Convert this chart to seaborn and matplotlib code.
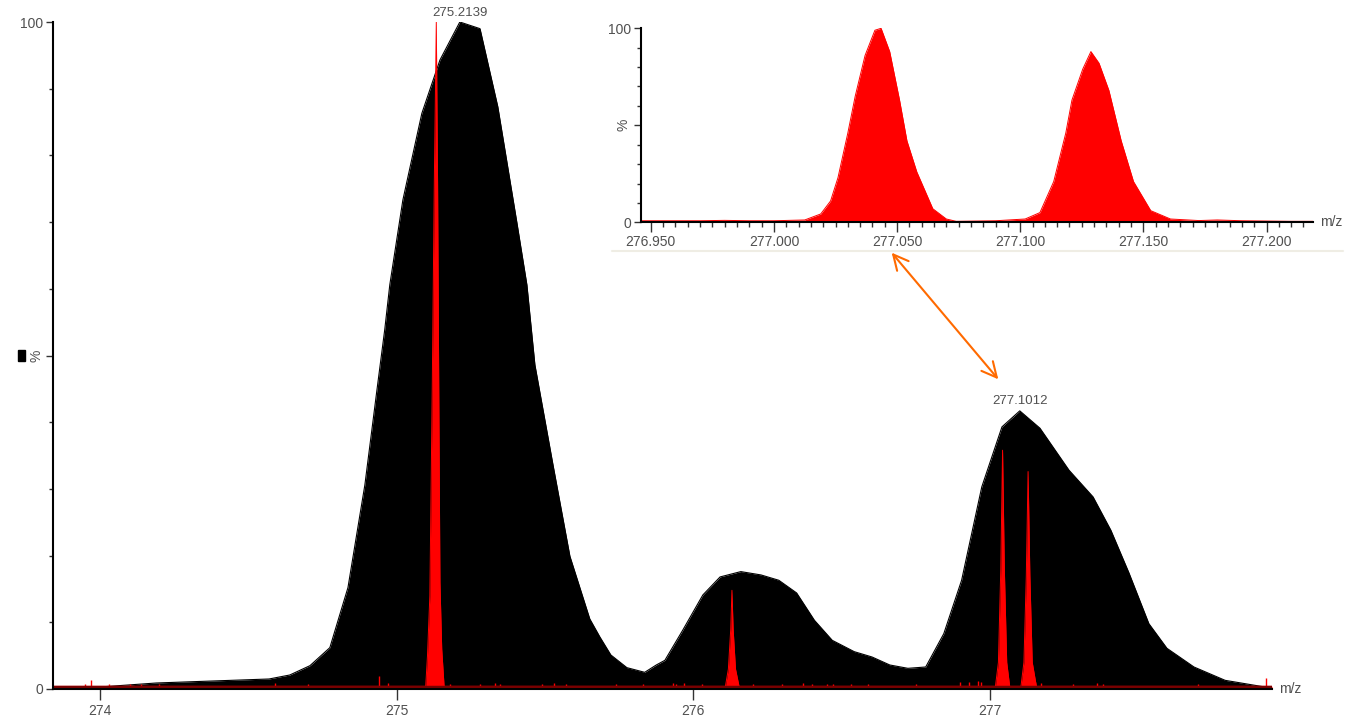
import numpy as np
import matplotlib
matplotlib.use("Agg")
import matplotlib.pyplot as plt
import seaborn as sns
from matplotlib.patches import Rectangle
from matplotlib.ticker import MultipleLocator

# black profile spectrum (m/z, %)
profileMz = [273.842, 274.00, 274.19, 274.38, 274.57, 274.64, 274.708, 274.775, 274.836,
             274.893, 274.933, 274.960, 274.977, 275.021, 275.085, 275.146, 275.213, 275.281,
             275.341, 275.405, 275.439, 275.466, 275.527, 275.584, 275.651, 275.685, 275.722,
             275.776, 275.836, 275.875, 275.904, 275.964, 276.032, 276.090, 276.160, 276.228,
             276.288, 276.348, 276.408, 276.468, 276.542, 276.602, 276.662, 276.723, 276.783,
             276.844, 276.904, 276.972, 277.040, 277.100, 277.168, 277.266, 277.347, 277.407,
             277.468, 277.535, 277.596, 277.687, 277.792, 277.926, 277.95]
profilePct = [0.0, 0.3, 0.9, 1.2, 1.5, 2.1, 3.5, 6.2, 15.2,
              30.6, 44.6, 53.9, 60.6, 73.3, 86.3, 94.3, 100.0, 99.0,
              87.3, 70.0, 60.6, 48.6, 33.6, 19.9, 10.5, 7.8, 5.1,
              3.2, 2.5, 3.6, 4.3, 8.8, 14.1, 16.8, 17.6, 17.1,
              16.3, 14.4, 10.3, 7.3, 5.6, 4.8, 3.6, 3.1, 3.3,
              8.3, 16.3, 30.3, 39.3, 41.7, 39.1, 32.8, 28.8, 23.8,
              17.4, 9.8, 6.1, 3.3, 1.3, 0.3, 0.2]

# red high resolution spectrum (m/z, %)
redMz = [273.842, 275.098, 275.104, 275.112, 275.120, 275.127, 275.1337, 275.138, 275.142,
         275.146, 275.152, 275.160, 276.108, 276.118, 276.126, 276.130, 276.134, 276.142,
         276.154, 277.018, 277.028, 277.036, 277.042, 277.048, 277.056, 277.066, 277.104,
         277.114, 277.122, 277.128, 277.134, 277.142, 277.156, 277.95]
redPct = [0.4, 0.4, 5, 14, 45, 76, 100, 76, 45,
          16, 6, 0.4, 0.4, 3, 9, 14.8, 9, 3,
          0.4, 0.4, 4, 18, 35.8, 18, 4, 0.4, 0.4,
          4, 17, 32.6, 17, 4, 0.4, 0.4]

# small noise spikes on the red trace
noiseMz = [273.95, 273.97, 274.03, 274.10, 274.14, 274.20, 274.59, 274.70, 274.94, 274.97,
           275.18, 275.28, 275.33, 275.35, 275.49, 275.53, 275.57, 275.74, 275.83, 275.93,
           275.94, 275.97, 276.03, 276.20, 276.30, 276.37, 276.40, 276.45, 276.47, 276.53,
           276.59, 276.75, 276.90, 276.93, 276.96, 276.97, 277.15, 277.17, 277.28, 277.36,
           277.38, 277.70, 277.93]
noiseHt = [0.8, 1.4, 0.8, 0.7, 0.7, 0.8, 0.9, 0.8, 2.0, 0.9,
           0.8, 0.8, 0.9, 0.8, 0.8, 0.9, 0.8, 0.8, 0.8, 0.9,
           0.8, 0.9, 0.8, 0.8, 0.8, 0.9, 0.8, 0.8, 0.8, 0.8,
           0.8, 0.8, 1.0, 1.1, 1.2, 1.1, 1.0, 0.9, 0.8, 0.9,
           0.8, 0.8, 1.6]

# inset: zoom on the 277 doublet
insetMz = [276.946, 276.97, 276.98, 276.99, 277.0, 277.0125, 277.019, 277.023, 277.026,
           277.030, 277.033, 277.037, 277.041, 277.0435, 277.047, 277.051, 277.054, 277.058,
           277.0645, 277.070, 277.074, 277.09, 277.102, 277.108, 277.1136, 277.1185, 277.121,
           277.1254, 277.1287, 277.132, 277.136, 277.141, 277.146, 277.153, 277.161, 277.1725,
           277.18, 277.19, 277.21, 277.219]
insetPct = [0.8, 0.8, 1.0, 0.8, 0.8, 1.2, 4.3, 11, 23,
            46, 65, 86, 99, 100, 88, 63, 42, 26,
            7, 1.7, 0.5, 0.8, 1.7, 5, 21, 46, 63,
            79, 88, 82, 68, 42, 21, 6, 1.7, 0.9,
            1.2, 0.8, 0.5, 0.5]

mainTicks = [274, 275, 276, 277]
insetTicks = [276.950, 277.000, 277.050, 277.100, 277.150, 277.200]
peakLabels = [(275.2139, 100.5, "275.2139"), (277.1012, 42.3, "277.1012")]

sns.set_theme(style="ticks")
plt.rcParams['font.family'] = ['Liberation Sans', 'DejaVu Sans']
textColor = "#505050"

W, H = 1347, 716
fig = plt.figure(figsize=(W / 100, H / 100), dpi=100)
fig.patch.set_facecolor("white")

# main plot
ax = fig.add_axes([53 / W, 27 / H, (1272 - 53) / W, 667 / H])
ax.fill_between(profileMz, profilePct, 0, color="black", lw=0)
sns.lineplot(x=profileMz, y=profilePct, ax=ax, color="black", lw=0.8, estimator=None, sort=False)
ax.fill_between(redMz, redPct, 0, color="#ff0000", lw=0)
sns.lineplot(x=redMz, y=redPct, ax=ax, color="#ff0000", lw=0.7, estimator=None, sort=False)
ax.vlines(noiseMz, 0, noiseHt, color="#ff0000", lw=1)
ax.axhline(0.3, color="#7a0000", lw=2.5)

ax.set_xlim(273.842, 277.95)
ax.set_ylim(0, 100)
ax.set_xticks(mainTicks)
ax.set_xticklabels([str(t) for t in mainTicks])
ax.set_yticks([0, 50, 100])
ax.set_yticklabels(["0", "%", "100"])
ax.get_yticklabels()[1].set_rotation(90)
ax.get_yticklabels()[1].set_va("center")
ax.yaxis.set_minor_locator(MultipleLocator(10))
for s in ["top", "right"]:
    ax.spines[s].set_visible(False)
for s in ["left", "bottom"]:
    ax.spines[s].set_color("black")
    ax.spines[s].set_linewidth(1.5)
ax.tick_params(axis="x", which="major", length=8, width=1, color="#333333",
               labelsize=10, labelcolor=textColor, pad=3)
ax.tick_params(axis="y", which="major", length=5, width=1, color="#333333",
               labelsize=10, labelcolor=textColor, pad=2)
ax.tick_params(axis="y", which="minor", length=3, width=1, color="#333333")
ax.set_xlabel("")
ax.set_ylabel("")
ax.annotate("m/z", xy=(1, 0), xycoords="axes fraction", xytext=(5, 0),
            textcoords="offset points", ha="left", va="center", fontsize=10, color=textColor)
for mz, pct, txt in peakLabels:
    ax.text(mz, pct, txt, ha="center", va="bottom", fontsize=9.5, color=textColor)

# inset plot
axin = fig.add_axes([640.7 / W, (H - 222.3) / H, (1313.3 - 640.7) / W, 194 / H])
axin.fill_between(insetMz, insetPct, 0, color="#ff0000", lw=0)
sns.lineplot(x=insetMz, y=insetPct, ax=axin, color="#ff0000", lw=0.7, estimator=None, sort=False)
axin.set_xlim(276.9459, 277.219)
axin.set_ylim(0, 100)
axin.set_xticks(insetTicks)
axin.set_xticklabels(["%.3f" % t for t in insetTicks])
axin.xaxis.set_minor_locator(MultipleLocator(0.005))
axin.set_yticks([0, 50, 100])
axin.set_yticklabels(["0", "%", "100"])
axin.get_yticklabels()[1].set_rotation(90)
axin.get_yticklabels()[1].set_va("center")
axin.yaxis.set_minor_locator(MultipleLocator(10))
for s in ["top", "right"]:
    axin.spines[s].set_visible(False)
for s in ["left", "bottom"]:
    axin.spines[s].set_color("black")
    axin.spines[s].set_linewidth(1.5)
axin.tick_params(axis="x", which="major", length=7, width=1, color="#333333",
                 labelsize=10, labelcolor=textColor, pad=2)
axin.tick_params(axis="x", which="minor", length=3.5, width=1, color="#333333")
axin.tick_params(axis="y", which="major", length=5, width=1, color="#333333",
                 labelsize=10, labelcolor=textColor, pad=2)
axin.tick_params(axis="y", which="minor", length=3, width=1, color="#333333")
axin.set_xlabel("")
axin.set_ylabel("")
axin.annotate("m/z", xy=(1, 0), xycoords="axes fraction", xytext=(5, 0),
              textcoords="offset points", ha="left", va="center", fontsize=10, color=textColor)

# faint frame line under inset, marker square and arrow
fig.add_artist(plt.Line2D([612 / W, 1343 / W], [(H - 251) / H, (H - 251) / H],
                          transform=fig.transFigure, color="#efede4", lw=1.5))
fig.add_artist(Rectangle((18 / W, (H - 361) / H), 7 / W, 11 / H,
                         transform=fig.transFigure, color="black"))
ax.annotate("", xy=(891.7, H - 252.7), xycoords="figure pixels",
            xytext=(998.3, H - 379.3), textcoords="figure pixels",
            arrowprops=dict(arrowstyle="<->,head_length=0.9,head_width=0.45",
                            color="#ff6a00", lw=1.5, shrinkA=0, shrinkB=0))

fig.savefig("out.png", dpi=100, facecolor="white")
